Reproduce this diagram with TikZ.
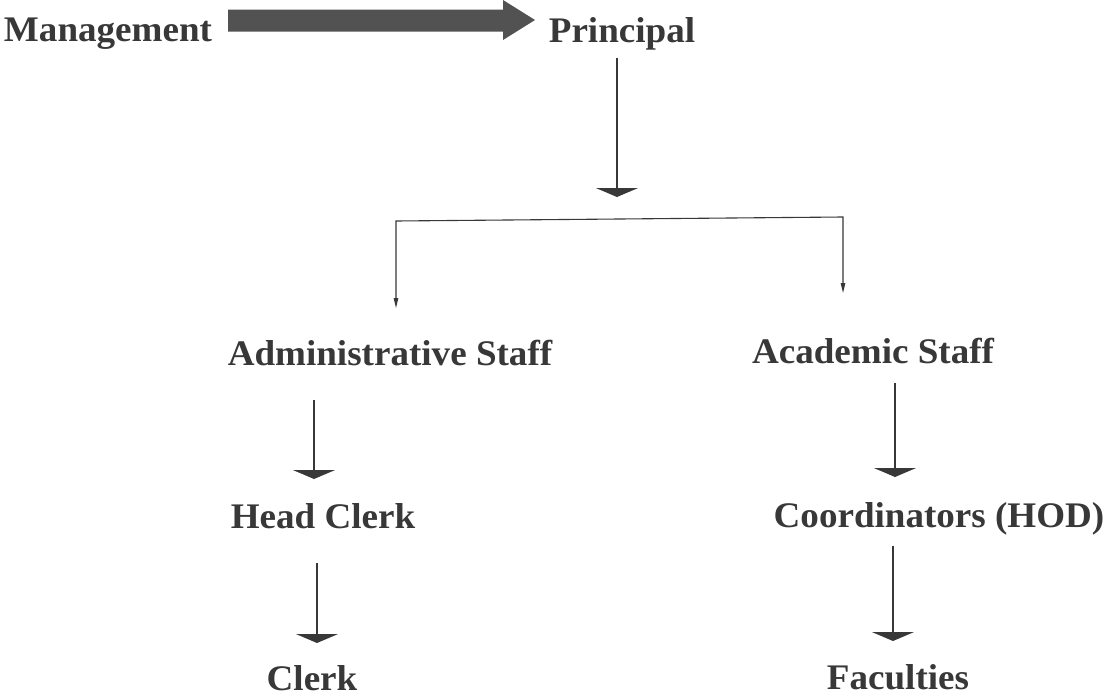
\documentclass[tikz,border=0pt]{standalone}
\usepackage{fontspec}
\setmainfont{Liberation Serif}[FakeStretch=1.03]
\usetikzlibrary{arrows.meta,calc}
\definecolor{ink}{HTML}{383838}
\definecolor{arrfill}{HTML}{525252}
\begin{document}
\begin{tikzpicture}[x=1pt,y=-1pt,
  lbl/.style={font=\fontsize{36}{40}\selectfont\bfseries, text=ink, inner sep=0pt, anchor=base},
  bigarr/.style={draw=ink, line width=2pt, -{Triangle[width=42pt,length=9pt]}},
  thinline/.style={draw=ink, line width=1.1pt}]
\useasboundingbox (0,0) rectangle (1111,696);
\fill[white] (0,0) rectangle (1111,696);
% labels
\node[lbl] (mgmt) at (108,41) {Management};
\node[lbl] (prin) at (622,42) {Principal};
\node[lbl] (adm)  at (390,365) {Administrative Staff};
\node[lbl] (acad) at (873,363) {Academic Staff};
\node[lbl] (head) at (323,528) {Head Clerk};
\node[lbl] (coord) at (939,527) {Coordinators (HOD)};
\node[lbl] (clerk) at (312,690) {Clerk};
\node[lbl] (fac)  at (898,689) {Faculties};
% block arrow Management -> Principal
\coordinate (bs) at (228,20.5);
\coordinate (bt) at (535,20);
\fill[arrfill] ($(bs)+(0,-11)$) -- (503,9.5) -- (503,0) -- (bt) -- (503,40) -- (503,31.5) -- ($(bs)+(0,11)$) -- cycle;
% Principal down arrow
\coordinate (p1) at (617,58);
\coordinate (p2) at (617,197);
\draw[bigarr] (p1) -- (p2);
% branch
\coordinate (bl) at (396,221);
\coordinate (br) at (843,217);
\coordinate (blt) at (396,308);
\coordinate (brt) at (843,293);
\draw[thinline, {Triangle[width=4.5pt,length=10pt]}-{Triangle[width=4.5pt,length=10pt]}] (blt) -- (bl) -- (br) -- (brt);
% left column
\coordinate (a1s) at (314,400);
\coordinate (a1e) at (314,479);
\draw[bigarr] (a1s) -- (a1e);
\coordinate (a2s) at (317,563);
\coordinate (a2e) at (317,643);
\draw[bigarr] (a2s) -- (a2e);
% right column
\coordinate (a3s) at (895,383);
\coordinate (a3e) at (895,477);
\draw[bigarr] (a3s) -- (a3e);
\coordinate (a4s) at (893,546);
\coordinate (a4e) at (893,641);
\draw[bigarr] (a4s) -- (a4e);
\end{tikzpicture}
\end{document}
